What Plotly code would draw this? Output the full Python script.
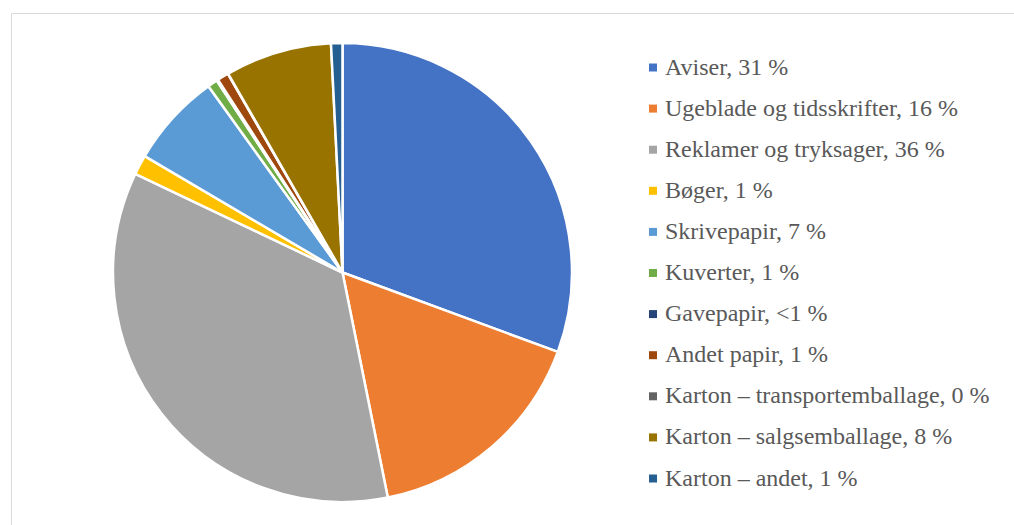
import plotly.graph_objects as go

W, H = 1014, 525

categories = [
    "Aviser", "Ugeblade og tidsskrifter", "Reklamer og tryksager", "Bøger",
    "Skrivepapir", "Kuverter", "Gavepapir", "Andet papir",
    "Karton – transportemballage", "Karton – salgsemballage", "Karton – andet",
]
pct_labels = ["31 %", "16 %", "36 %", "1 %", "7 %", "1 %", "<1 %", "1 %", "0 %", "8 %", "1 %"]
values = [30.6, 16.2, 35.2, 1.4, 6.6, 0.7, 0.1, 0.8, 0.02, 7.5, 0.8]
colors = ["#4472C4", "#ED7D31", "#A5A5A5", "#FFC000", "#5B9BD5", "#70AD47",
          "#264478", "#9E480E", "#636363", "#997300", "#255E91"]

FONT = "Liberation Serif"

fig = go.Figure()
fig.add_trace(go.Pie(
    labels=categories, values=values, sort=False, direction="clockwise", rotation=0,
    marker=dict(colors=colors, line=dict(color="white", width=2.5)),
    textinfo="none", hoverinfo="label+percent", showlegend=False,
    domain=dict(x=[113 / W, 572 / W], y=[1 - 502 / H, 1 - 43 / H]),
))

# border
fig.add_shape(type="rect", xref="paper", yref="paper",
              x0=11.5 / W, x1=1.02, y0=-0.02, y1=1 - 13.5 / H,
              line=dict(color="#D9D9D9", width=1), fillcolor="rgba(0,0,0,0)")

# legend
y0, dy = 67.5, 41.1
for i, (c, p, col) in enumerate(zip(categories, pct_labels, colors)):
    yc = y0 + i * dy
    fig.add_shape(type="rect", xref="paper", yref="paper",
                  x0=649 / W, x1=657 / W, y0=1 - (yc + 4) / H, y1=1 - (yc - 4) / H,
                  line=dict(width=0), fillcolor=col)
    fig.add_annotation(xref="paper", yref="paper", x=663 / W, y=1 - (yc - 1) / H,
                       xanchor="left", yanchor="middle", showarrow=False,
                       text=f"{c}, {p}",
                       font=dict(family=FONT, size=24, color="#595959"))

fig.update_layout(width=W, height=H, margin=dict(l=0, r=0, t=0, b=0),
                  font=dict(family=FONT),
                  paper_bgcolor="white", plot_bgcolor="white", showlegend=False)
fig.write_html("out.html", config={"displayModeBar": False},
               post_script="document.body.style.margin='0';document.body.style.overflow='hidden';")
